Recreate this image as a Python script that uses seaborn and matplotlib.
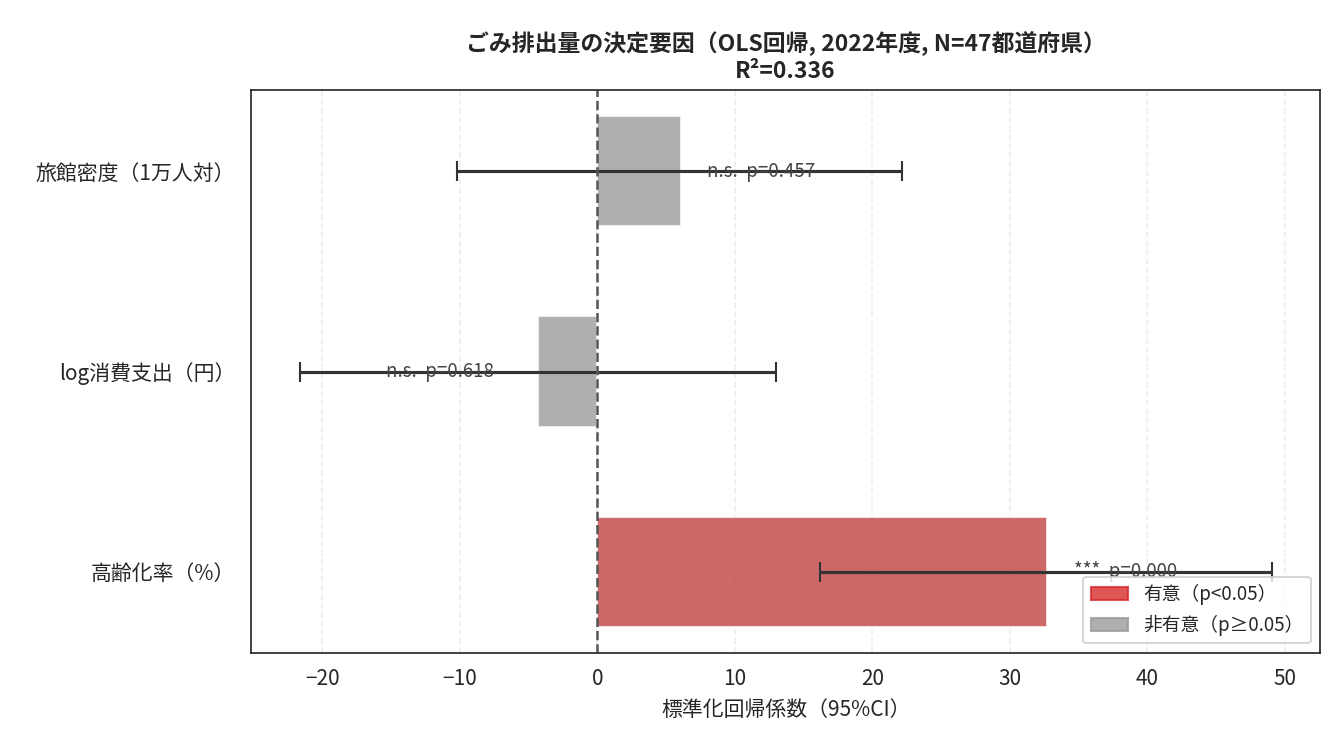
import matplotlib
matplotlib.use("Agg")
import matplotlib.pyplot as plt
import pandas as pd
import seaborn as sns
from matplotlib.patches import Patch

sns.set_style("white")
plt.rcParams["font.family"] = ["Noto Sans CJK JP", "DejaVu Sans"]

variables = ["旅館密度（1万人対）", "log消費支出（円）", "高齢化率（%）"]
coefs = [6.1, -4.3, 32.7]
ci_low = [-10.2, -21.6, 16.2]
ci_high = [22.2, 13.0, 49.1]
labels = ["n.s.  p=0.457", "n.s.  p=0.618", "***  p=0.000"]
label_x = [8.0, -15.4, 34.7]
significant = [False, False, True]

df = pd.DataFrame({"var": variables, "coef": coefs,
                   "sig": ["有意" if s else "非有意" for s in significant]})

fig, ax = plt.subplots(figsize=(8.9, 4.9), dpi=150)
sns.barplot(data=df, x="coef", y="var", hue="sig", order=variables,
            palette={"有意": "#d62728", "非有意": "#999999"}, alpha=0.78,
            width=0.55, dodge=False, legend=False, ax=ax)
for i, v in enumerate(variables):
    ax.errorbar(coefs[i], i, xerr=[[coefs[i] - ci_low[i]], [ci_high[i] - coefs[i]]],
                fmt="none", ecolor="#333333", capsize=5, lw=1.5)
    ax.text(label_x[i], i, labels[i], va="center", ha="left", fontsize=9, color="#444444")
ax.axvline(0, color="#555555", ls="--", lw=1.2)
ax.set_xlim(-25.2, 52.6)
ax.set_xticks(range(-20, 51, 10))
ax.grid(axis="x", ls="--", alpha=0.35)
ax.set_ylabel("")
ax.set_xlabel("標準化回帰係数（95%CI）", fontsize=10)
ax.set_title("ごみ排出量の決定要因（OLS回帰, 2022年度, N=47都道府県）\nR²=0.336",
             fontsize=11, fontweight="bold")
ax.tick_params(axis="both", labelsize=10, length=4)
for s in ax.spines.values():
    s.set_color("#222222")
ax.legend(handles=[Patch(facecolor="#d62728", alpha=0.78, edgecolor="#d62728", label="有意（p<0.05）"),
                   Patch(facecolor="#999999", alpha=0.78, edgecolor="#999999", label="非有意（p≥0.05）")],
          loc="lower right", fontsize=9)
fig.subplots_adjust(left=0.188, right=0.989, top=0.877, bottom=0.112)
fig.savefig("out.png", dpi=150)
